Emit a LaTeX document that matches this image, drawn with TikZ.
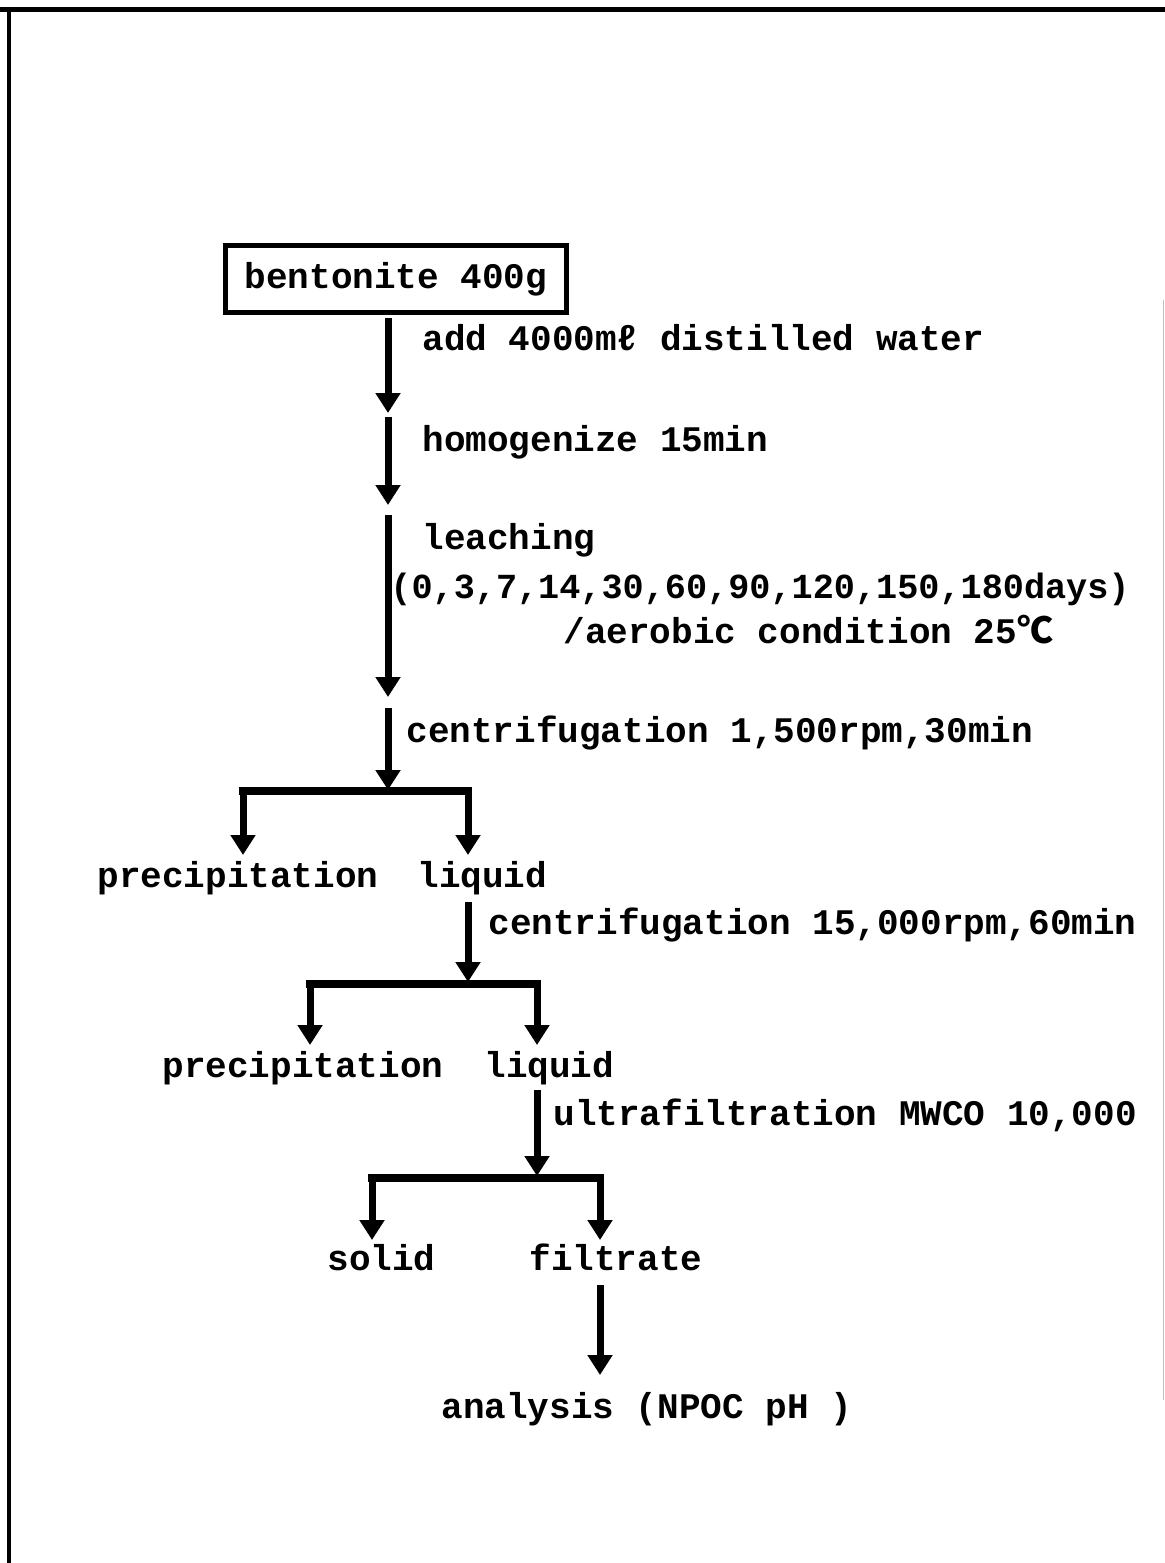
\documentclass[tikz,border=0pt]{standalone}
\usepackage{fontspec}
\setmainfont{Liberation Mono}
\newfontfamily\cjkfont{Noto Sans CJK JP}
\usetikzlibrary{arrows.meta}
\tikzset{
	flow/.style={line width=3.5pt,-{Triangle[width=12pt,length=10pt]}},
	bar/.style={line width=3.8pt,line cap=rect},
	lbl/.style={anchor=base west,inner sep=0pt,font=\fontsize{18}{22}\selectfont\bfseries},
	startbox/.style={draw,line width=2.5pt,minimum width=170.5pt,minimum height=33.5pt,inner sep=0pt,font=\fontsize{18}{22}\selectfont\bfseries}
}

\begin{document}
\begin{tikzpicture}[x=0.5pt,y=-0.5pt]
			\useasboundingbox (0,0) rectangle (1165,1563);
			%%%%% FRAME %%%%%
			
			\draw[line width=2.5pt] (0,9) -- (1165,9);
			\draw[line width=2pt] (9,8) -- (9,1563);
			\draw[gray!50,line width=0.4pt] (1163,300) -- (1163,1400);
			
			%%%%% MAIN LINE %%%%%
			
			\node[startbox] (bent) at (396,279) {bentonite 400g};
			
			\coordinate (m1s) at (388,318);
			\coordinate (m1e) at (388,413);
			\coordinate (m2s) at (388,417);
			\coordinate (m2e) at (388,505);
			\coordinate (m3s) at (388,515);
			\coordinate (m3e) at (388,697);
			\coordinate (m4s) at (388,708);
			\coordinate (m4e) at (388,790);
			\draw[flow] (m1s) -- (m1e);
			\draw[flow] (m2s) -- (m2e);
			\draw[flow] (m3s) -- (m3e);
			\draw[flow] (m4s) -- (m4e);
			
			\node[lbl] (water) at (422,350) {add 4000mℓ distilled water};
			\node[lbl] (homog) at (422,451) {homogenize 15min};
			\node[lbl] (leach) at (422,549) {leaching};
			\node[lbl,font=\fontsize{17.6}{22}\selectfont\bfseries] (days) at (390,598) {(0,3,7,14,30,60,90,120,150,180days)};
			\node[lbl] (aerob) at (563,643) {/aerobic condition 25{\cjkfont ℃}};
			\node[lbl] (cent1) at (406,742) {centrifugation 1,500rpm,30min};
			
			%%%%% FIRST SPLIT %%%%%
			
			\coordinate (b1l) at (243,791);
			\coordinate (b1r) at (468,791);
			\coordinate (t1l) at (243,855);
			\coordinate (t1r) at (468,855);
			\draw[bar] (b1l) -- (b1r);
			\draw[flow] (b1l) -- (t1l);
			\draw[flow] (b1r) -- (t1r);
			
			\node[lbl] (prec1) at (97,887) {precipitation};
			\node[lbl] (liqu1) at (417,887) {liquid};
			
			\coordinate (l1s) at (468,902);
			\coordinate (l1e) at (468,982);
			\draw[flow] (l1s) -- (l1e);
			\node[lbl] (cent2) at (488,934) {centrifugation 15,000rpm,60min};
			
			%%%%% SECOND SPLIT %%%%%
			
			\coordinate (b2l) at (310,984);
			\coordinate (b2r) at (537,984);
			\coordinate (t2l) at (310,1045);
			\coordinate (t2r) at (537,1045);
			\draw[bar] (b2l) -- (b2r);
			\draw[flow] (b2l) -- (t2l);
			\draw[flow] (b2r) -- (t2r);
			
			\node[lbl] (prec2) at (162,1077) {precipitation};
			\node[lbl] (liqu2) at (484,1077) {liquid};
			
			\coordinate (l2s) at (537,1090);
			\coordinate (l2e) at (537,1176);
			\draw[flow] (l2s) -- (l2e);
			\node[lbl] (ultra) at (553,1125) {ultrafiltration MWCO 10,000};
			
			%%%%% THIRD SPLIT %%%%%
			
			\coordinate (b3l) at (372,1178);
			\coordinate (b3r) at (600,1178);
			\coordinate (t3l) at (372,1240);
			\coordinate (t3r) at (600,1240);
			\draw[bar] (b3l) -- (b3r);
			\draw[flow] (b3l) -- (t3l);
			\draw[flow] (b3r) -- (t3r);
			
			\node[lbl] (solid) at (327,1270) {solid};
			\node[lbl] (filtr) at (529,1270) {filtrate};
			
			\coordinate (f1s) at (600,1285);
			\coordinate (f1e) at (600,1375);
			\draw[flow] (f1s) -- (f1e);
			\node[lbl] (analy) at (441,1418) {analysis (NPOC pH )};
			
			%%%%% END %%%%%
\end{tikzpicture}
\end{document}
